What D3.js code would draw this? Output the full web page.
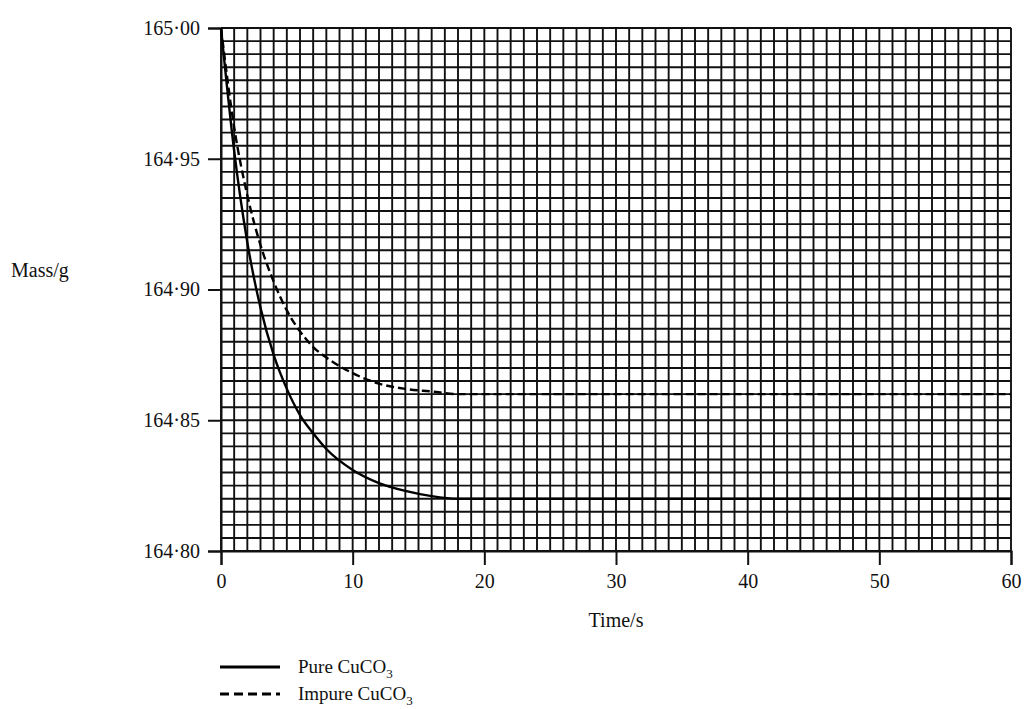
<!DOCTYPE html>
<html>
<head>
<meta charset="utf-8">
<script src="https://cdn.jsdelivr.net/npm/d3@7"></script>
<style>
  body { margin: 0; background: #fff; }
  svg text { font-family: "Liberation Serif", "Times New Roman", "DejaVu Serif", serif; fill: #111; }
</style>
</head>
<body>
<div id="chart"></div>
<script>
// readings taken off the reference graph
var times = [0, 1, 2, 3, 4, 5, 6, 7, 8, 10, 12, 14, 16, 18, 20, 30, 40, 50, 60];
var pureMass = [165.000, 164.953, 164.918, 164.893, 164.875, 164.862, 164.852, 164.845, 164.839,
                164.831, 164.826, 164.823, 164.821, 164.820, 164.820, 164.820, 164.820, 164.820, 164.820];
var impureMass = [165.000, 164.962, 164.936, 164.917, 164.903, 164.892, 164.884, 164.878, 164.874,
                  164.868, 164.864, 164.862, 164.861, 164.860, 164.860, 164.860, 164.860, 164.860, 164.860];
var xTicks = [0, 10, 20, 30, 40, 50, 60];
var yTicks = [164.80, 164.85, 164.90, 164.95, 165.00];
var legendLabels = ["Pure CuCO", "Impure CuCO"];

var W = 1029, H = 709;
var margin = { top: 28, left: 221 };
var width = 790, height = 523;

var svg = d3.select("#chart").append("svg")
  .attr("width", W)
  .attr("height", H)
  .attr("font-family", "Liberation Serif, serif");

var g = svg.append("g")
  .attr("transform", "translate(" + margin.left + "," + margin.top + ")");

var x = d3.scaleLinear().domain([0, 60]).range([0, width]);
var y = d3.scaleLinear().domain([164.80, 165.00]).range([height, 0]);

// graph paper grid: 1 s by 0.005 g
var gridX = d3.range(0, 61, 1);
var gridY = d3.range(0, 41).map(function(i) { return 164.80 + i * 0.005; });

g.append("g").selectAll("line")
    .data(gridX)
  .enter().append("line")
    .attr("x1", function(d) { return x(d); })
    .attr("x2", function(d) { return x(d); })
    .attr("y1", 0)
    .attr("y2", height)
    .style("stroke", "#111")
    .style("stroke-width", 1.9);

g.append("g").selectAll("line")
    .data(gridY)
  .enter().append("line")
    .attr("x1", 0)
    .attr("x2", width)
    .attr("y1", function(d) { return y(d); })
    .attr("y2", function(d) { return y(d); })
    .style("stroke", "#111")
    .style("stroke-width", 1.9);

var fmt = function(d) { return d3.format(".2f")(d).replace(".", "\u00b7"); };

var yAxis = g.append("g")
  .call(d3.axisLeft(y).tickValues(yTicks).tickFormat(fmt).tickSize(13).tickPadding(8));

var xAxis = g.append("g")
  .attr("transform", "translate(0," + height + ")")
  .call(d3.axisBottom(x).tickValues(xTicks).tickSize(14).tickPadding(9));

[yAxis, xAxis].forEach(function(ax) {
  ax.attr("font-family", null).attr("font-size", null);
  ax.select(".domain").style("stroke", "#111").style("stroke-width", 2);
  ax.selectAll(".tick line").style("stroke", "#111").style("stroke-width", 2);
  ax.selectAll("text")
    .style("font-size", "20px")
    .style("fill", "#111");
});

// curves
var pts = function(arr) { return times.map(function(t, i) { return [t, arr[i]]; }); };
var line = d3.line()
  .x(function(d) { return x(d[0]); })
  .y(function(d) { return y(d[1]); })
  .curve(d3.curveMonotoneX);

g.append("path")
  .datum(pts(pureMass))
  .attr("fill", "none")
  .style("stroke", "#000")
  .style("stroke-width", 2.4)
  .attr("d", line);

g.append("path")
  .datum(pts(impureMass))
  .attr("fill", "none")
  .style("stroke", "#000")
  .style("stroke-width", 2.4)
  .style("stroke-dasharray", "8,4")
  .attr("d", line);

// axis titles
svg.append("text")
  .attr("x", 11)
  .attr("y", 277)
  .style("font-size", "20px")
  .text("Mass/g");

svg.append("text")
  .attr("x", 616)
  .attr("y", 627)
  .attr("text-anchor", "middle")
  .style("font-size", "20px")
  .text("Time/s");

// legend
var legend = svg.selectAll(".legend")
    .data(legendLabels)
  .enter().append("g")
    .attr("class", "legend")
    .attr("transform", function(d, i) { return "translate(220," + (667 + i * 27) + ")"; });

legend.append("line")
  .attr("x1", 0)
  .attr("x2", 60)
  .style("stroke", "#000")
  .style("stroke-width", 2.8)
  .style("stroke-dasharray", function(d, i) { return i ? "9,5" : null; });

var lt = legend.append("text")
  .attr("x", 78)
  .attr("y", 6)
  .style("font-size", "19px");
lt.append("tspan").text(function(d) { return d; });
lt.append("tspan")
  .attr("dy", 5)
  .style("font-size", "13px")
  .text("3");
</script>
</body>
</html>
